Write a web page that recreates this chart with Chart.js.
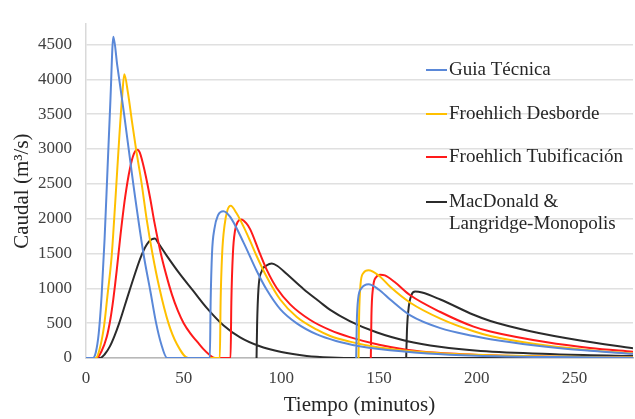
<!DOCTYPE html>
<html><head><meta charset="utf-8">
<script src="https://cdn.jsdelivr.net/npm/chart.js@4/dist/chart.umd.min.js"></script>
<style>html,body{margin:0;padding:0;background:#fff}</style>
</head><body>
<canvas id="c" width="635" height="419"></canvas>
<script>
// ---- data ----
const seriesLabels = ['Guia Técnica', 'Froehlich Desborde', 'Froehlich Tubificación', ['MacDonald &', 'Langridge-Monopolis']];
const xTickValues = [0, 50, 100, 150, 200, 250];
const yTickValues = [0, 500, 1000, 1500, 2000, 2500, 3000, 3500, 4000, 4500];

const guiaT = [0, 3.5, 5, 6.5, 8, 9.5, 11, 12.5, 14, 16, 19.5, 24.2, 29.4, 33, 35.9, 38.5, 41.5, 63.4, 63.8, 64.5, 65.7, 67.6, 70.3, 73.8, 80.6, 87.4, 92.6, 99.4, 107.9, 118.2, 128, 140, 150, 175, 200, 240, 280, 280, 138.3, 138.6, 139.3, 141, 144.6, 150, 155.7, 166, 181.4, 198.4, 207, 230, 255, 280];
const guiaQ = [0, 0, 80, 350, 900, 1700, 2700, 3700, 4610, 4200, 3500, 2500, 1500, 950, 500, 200, 0, 0, 800, 1500, 1850, 2050, 2107, 2025, 1660, 1249, 975, 702, 497, 338, 245, 170, 128, 65, 33, 13, 5, null, 0, 500, 850, 1000, 1058, 980, 839, 611, 428, 315, 269, 180, 110, 60];

const desT = [0, 5, 7, 9.2, 11, 13.1, 15, 17, 18.5, 19.6, 21.5, 23.5, 25.6, 28.5, 31, 34, 37.6, 42.2, 46.5, 52.3, 68.5, 68.9, 69.7, 70.9, 72.4, 74.1, 77, 80.6, 84, 87.4, 92.6, 99.4, 107.9, 118.2, 125, 135, 150, 170, 200, 240, 280, 280, 139.5, 139.8, 140.5, 142, 144.6, 150, 155.7, 166, 181.4, 198.4, 207, 230, 255, 280];
const desQ = [0, 0, 130, 450, 900, 1450, 2250, 3150, 3750, 4070, 3800, 3400, 3000, 2500, 2000, 1500, 1000, 500, 200, 0, 0, 800, 1500, 1900, 2120, 2184, 2080, 1888, 1680, 1460, 1158, 839, 588, 406, 315, 235, 150, 90, 45, 20, 9, null, 0, 600, 1050, 1220, 1258, 1180, 1022, 793, 565, 383, 315, 200, 120, 64];

const tubT = [0, 5.5, 8, 10.6, 12.5, 14, 15.7, 17.4, 20, 22.5, 24.5, 26.2, 27.5, 30.2, 32.8, 35, 38.3, 41, 44, 47, 50, 53.5, 57, 60, 63, 66, 74, 74.4, 75.2, 76.3, 77.8, 79.5, 82, 84, 89, 92.6, 97.7, 104.5, 114.8, 125, 135, 150, 164, 180, 210, 250, 280, 280, 145.8, 146.1, 146.9, 148.5, 150.6, 153, 158, 166, 181.4, 198.4, 207, 236, 258, 280];
const tubQ = [0, 0, 100, 300, 560, 850, 1250, 1700, 2300, 2720, 2930, 2990, 2950, 2663, 2300, 1950, 1500, 1200, 910, 680, 500, 350, 230, 130, 50, 0, 0, 800, 1500, 1830, 1960, 1988, 1935, 1850, 1500, 1260, 1000, 770, 545, 400, 300, 190, 120, 75, 35, 14, 7, null, 0, 600, 1000, 1160, 1195, 1185, 1090, 900, 660, 450, 380, 225, 145, 90];

const macT = [0, 7.2, 9.5, 12.3, 14.5, 17, 22.2, 28.5, 31.9, 35.3, 37, 41.3, 48.2, 55, 61.8, 70.3, 78.9, 88.3, 100, 113, 125, 140, 280, 280, 87.3, 87.6, 88.3, 90, 92.6, 95.1, 98, 102.8, 111.3, 119.9, 125, 135, 149, 164, 181, 202, 240, 280, 280, 163.9, 164.3, 165.3, 166.5, 168.5, 172, 181.4, 198.4, 207, 227.5, 253, 280];
const macQ = [0, 0, 50, 170, 310, 500, 960, 1480, 1660, 1714, 1650, 1470, 1200, 960, 720, 470, 295, 175, 85, 30, 8, 0, 0, null, 0, 500, 1000, 1249, 1330, 1355, 1320, 1204, 990, 800, 690, 530, 365, 245, 160, 100, 55, 30, null, 0, 400, 750, 900, 953, 940, 839, 620, 530, 383, 250, 140];

// ---- styling ----
const seriesColors = ['#5a88d8', '#ffc000', '#ff1a1a', '#2b2b2b'];
const SERIF = '"Liberation Serif", "Times New Roman", serif';

const toPts = (t, q) => t.map((x, i) => ({ x: x, y: q[i] }));
const seriesData = [toPts(guiaT, guiaQ), toPts(desT, desQ), toPts(tubT, tubQ), toPts(macT, macQ)];

const legendPlugin = {
  id: 'sideLegend',
  afterDatasetsDraw(chart) {
    const ctx = chart.ctx;
    const rows = [70, 114, 157, 202];
    ctx.save();
    ctx.font = '19px ' + SERIF;
    ctx.textBaseline = 'middle';
    ctx.textAlign = 'left';
    chart.data.datasets.forEach((ds, i) => {
      const y = rows[i];
      ctx.strokeStyle = ds.borderColor;
      ctx.lineWidth = 2;
      ctx.beginPath();
      ctx.moveTo(426, y);
      ctx.lineTo(447, y);
      ctx.stroke();
      ctx.fillStyle = '#262626';
      const lines = Array.isArray(ds.label) ? ds.label : [ds.label];
      lines.forEach((ln, k) => ctx.fillText(ln, 449, y + k * 22.5));
    });
    ctx.restore();
  }
};

new Chart(document.getElementById('c'), {
  type: 'line',
  data: {
    datasets: seriesData.map((d, i) => ({
      label: seriesLabels[i],
      data: d,
      borderColor: seriesColors[i],
      backgroundColor: seriesColors[i],
      borderWidth: 2,
      pointRadius: 0,
      fill: false,
      cubicInterpolationMode: 'monotone',
      spanGaps: false
    }))
  },
  options: {
    responsive: false,
    animation: false,
    devicePixelRatio: 1,
    layout: { padding: { top: 8, right: 2, left: 0, bottom: 0 } },
    plugins: { legend: { display: false }, tooltip: { enabled: false } },
    scales: {
      x: {
        type: 'linear', min: 0, max: 280,
        afterBuildTicks: s => { s.ticks = xTickValues.map(v => ({ value: v })); },
        afterFit: s => { s.height = 61; },
        ticks: { font: { family: SERIF, size: 17 }, color: '#404040', padding: 10, maxRotation: 0, callback: v => String(v) },
        grid: { display: false, drawTicks: false },
        border: { display: true, color: '#b8b8b8', width: 1.5 },
        title: { display: true, text: 'Tiempo (minutos)', font: { family: SERIF, size: 21 }, color: '#262626', padding: { top: 0, bottom: 1 } }
      },
      y: {
        type: 'linear', min: 0, max: 4790,
        afterBuildTicks: s => { s.ticks = yTickValues.map(v => ({ value: v })); },
        afterFit: s => { s.width = 86; },
        ticks: { font: { family: SERIF, size: 17 }, color: '#404040', padding: 14, callback: v => String(v) },
        grid: { color: '#e0e0e0', lineWidth: 1.5, drawTicks: false },
        border: { display: true, color: '#d9d9d9', width: 1.5 },
        title: { display: true, text: 'Caudal (m³/s)', font: { family: SERIF, size: 21 }, color: '#262626', padding: { top: 10, bottom: 0 } }
      }
    }
  },
  plugins: [legendPlugin]
});
</script>
</body></html>
